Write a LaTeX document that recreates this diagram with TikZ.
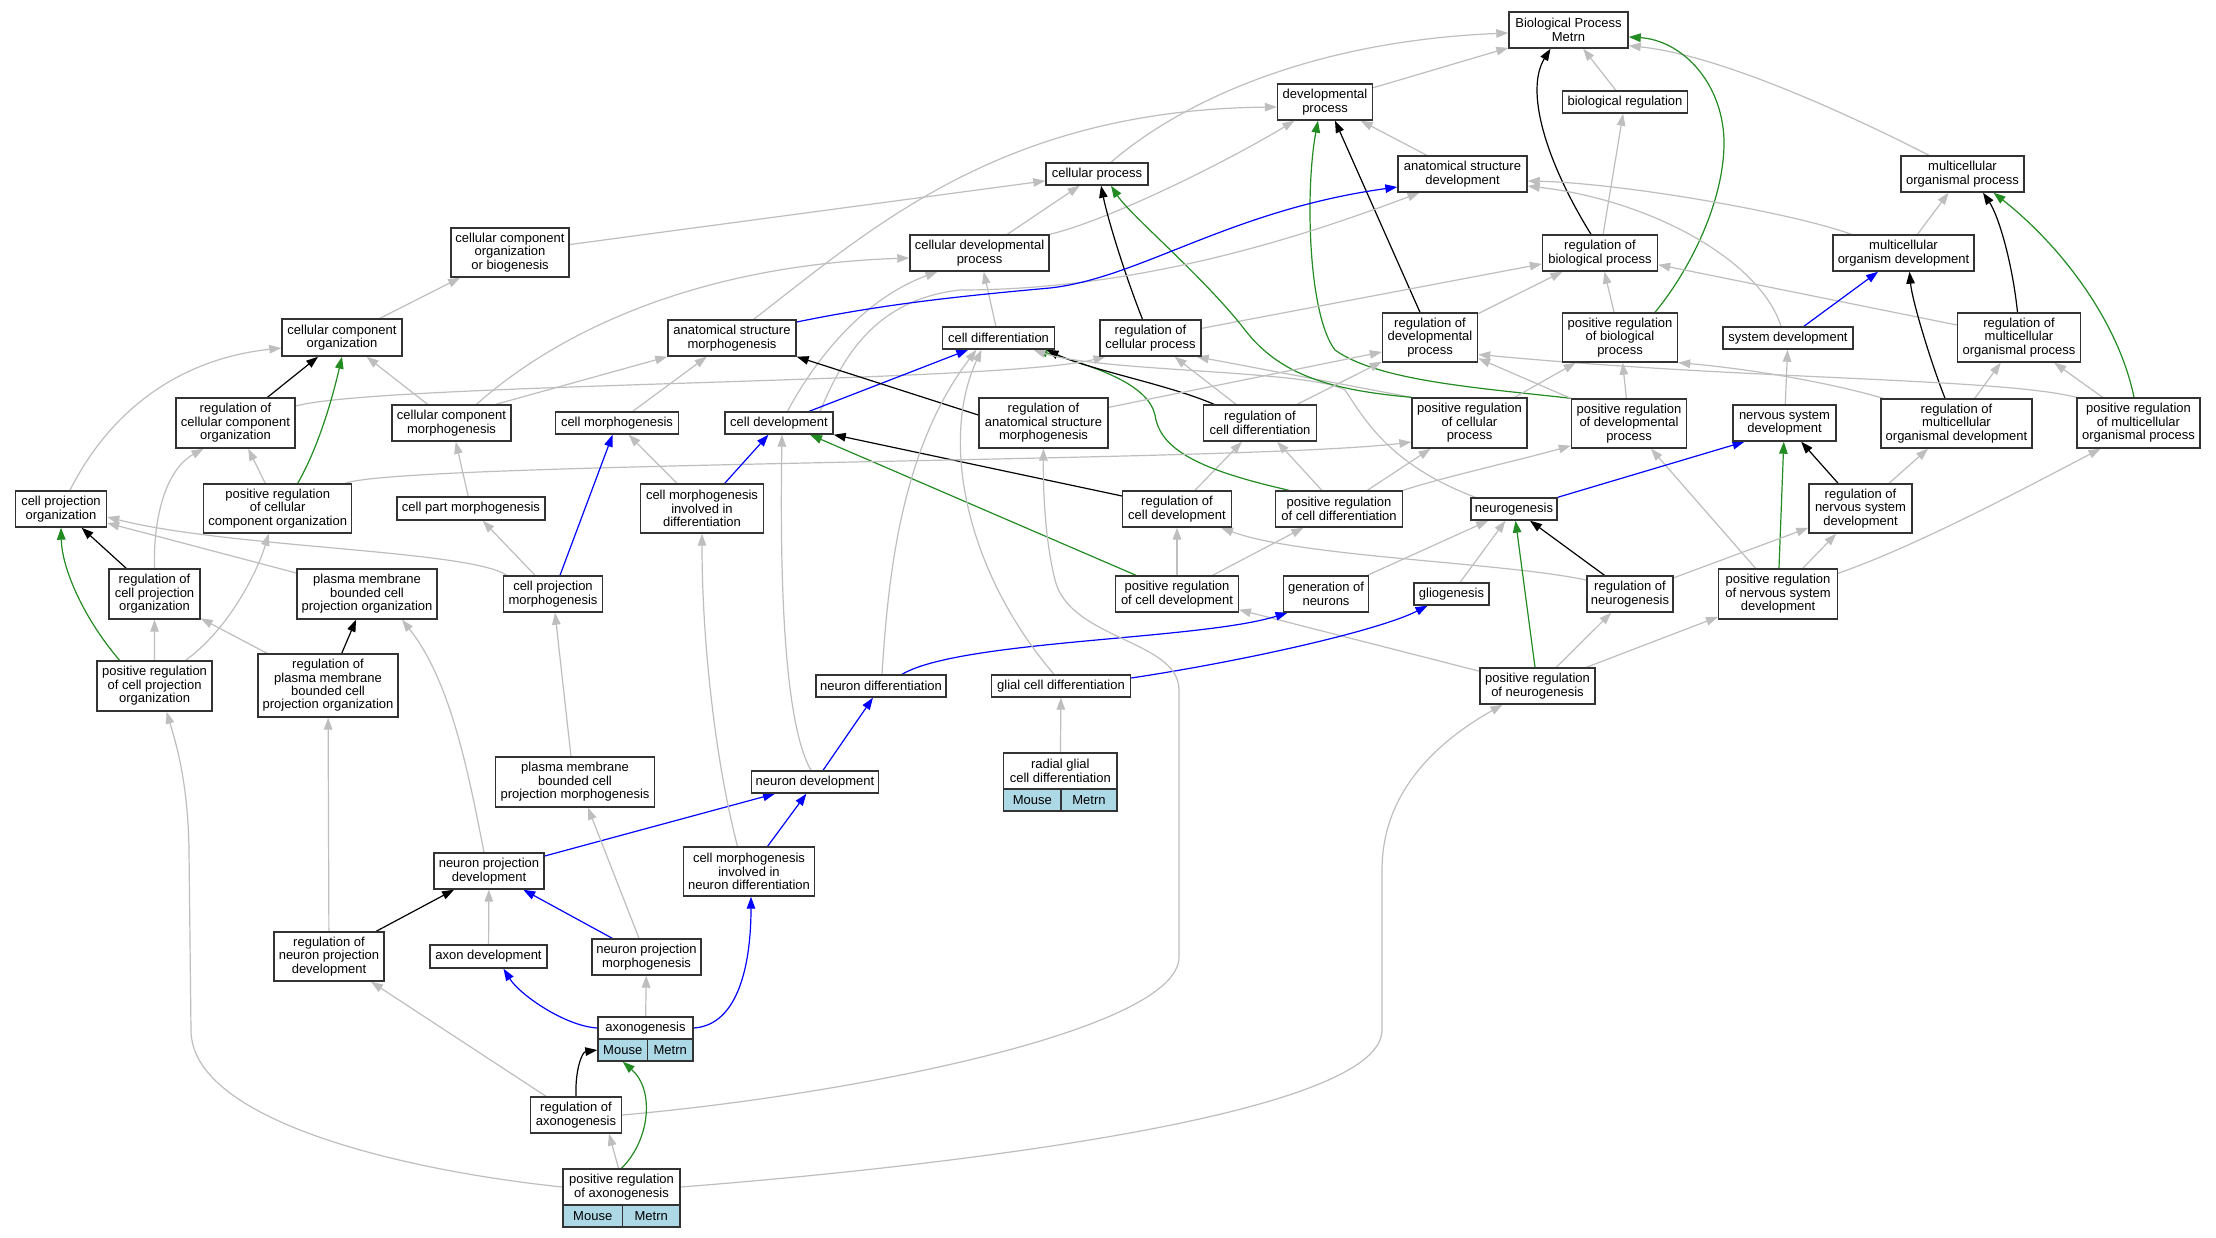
\documentclass[tikz,border=0pt]{standalone}
\usepackage{fontspec}
\setmainfont{Liberation Sans}
\usetikzlibrary{arrows.meta}
\pgfdeclarelayer{bg}
\pgfsetlayers{bg,main}
\definecolor{egray}{RGB}{190,190,190}
\definecolor{egreen}{RGB}{34,139,34}
\definecolor{eblue}{RGB}{0,0,255}
\definecolor{lblue}{RGB}{173,216,230}
\begin{document}
\begin{tikzpicture}[x=1pt,y=-1pt,
  box/.style={draw=black!80, line width=1.4pt, fill=white, align=center, inner xsep=2pt, inner ysep=0pt, font=\fontsize{13}{13.4}\selectfont, text=black},
  gene/.style={box, fill=lblue},
  wh/.style 2 args={minimum width=#1pt, minimum height=#2pt},
  conn/.style={line width=1.2pt, -{Triangle[length=12pt,width=8.5pt]}},
  eisa/.style={conn, draw=egray},
  ereg/.style={conn, draw=black},
  epos/.style={conn, draw=egreen},
  epart/.style={conn, draw=eblue}]
\useasboundingbox (0,0) rectangle (2216,1237);
% nodes
\node[box,wh={119}{36}] (BP) at (1568.5,30) {Biological Process\\Metrn};
\node[box,wh={95}{36}] (devproc) at (1325,102) {developmental\\process};
\node[box,wh={125}{22}] (biolreg) at (1625,102) {biological regulation};
\node[box,wh={123}{36}] (mop) at (1962.5,174) {multicellular\\organismal process};
\node[box,wh={102}{22}] (cellproc) at (1097,174) {cellular process};
\node[box,wh={129}{36}] (asd) at (1462.5,174) {anatomical structure\\development};
\node[box,wh={118}{49}] (cccob) at (510,252.5) {cellular component\\organization\\or biogenesis};
\node[box,wh={139}{36}] (celldevproc) at (979.5,253) {cellular developmental\\process};
\node[box,wh={115}{36}] (regbp) at (1600,253) {regulation of\\biological process};
\node[box,wh={141}{36}] (mod) at (1903.5,253) {multicellular\\organism development};
\node[box,wh={120}{37}] (cco) at (342,337.5) {cellular component\\organization};
\node[box,wh={128}{36}] (asm) at (732,338) {anatomical structure\\morphogenesis};
\node[box,wh={112}{22}] (celldiff) at (998.5,338) {cell differentiation};
\node[box,wh={101}{36}] (regcp) at (1150.5,338) {regulation of\\cellular process};
\node[box,wh={95}{49}] (regdev) at (1430,337.5) {regulation of\\developmental\\process};
\node[box,wh={115}{49}] (posregbp) at (1620,337.5) {positive regulation\\of biological\\process};
\node[box,wh={130}{22}] (sysdev) at (1788,338) {system development};
\node[box,wh={123}{49}] (regmop) at (2019,337.5) {regulation of\\multicellular\\organismal process};
\node[box,wh={119}{50}] (regcco) at (235.5,423) {regulation of\\cellular component\\organization};
\node[box,wh={119}{36}] (ccm) at (451.5,423) {cellular component\\morphogenesis};
\node[box,wh={123}{22}] (cellmorph) at (617,423) {cell morphogenesis};
\node[box,wh={108}{22}] (celldev) at (779,423) {cell development};
\node[box,wh={129}{50}] (regasm) at (1043.5,423) {regulation of\\anatomical structure\\morphogenesis};
\node[box,wh={113}{36}] (regcelldiff) at (1260,423) {regulation of\\cell differentiation};
\node[box,wh={115}{50}] (posregcp) at (1469.5,423) {positive regulation\\of cellular\\process};
\node[box,wh={115}{49}] (posregdev) at (1629,423.5) {positive regulation\\of developmental\\process};
\node[box,wh={103}{36}] (nsd) at (1784.5,423) {nervous system\\development};
\node[box,wh={151}{49}] (regmod) at (1956.5,423.5) {regulation of\\multicellular\\organismal development};
\node[box,wh={123}{50}] (posregmop) at (2138.5,423) {positive regulation\\of multicellular\\organismal process};
\node[box,wh={91}{36}] (cpo) at (61,509) {cell projection\\organization};
\node[box,wh={148}{49}] (poscco) at (277.7,508.5) {positive regulation\\of cellular\\component organization};
\node[box,wh={148}{23}] (cpm) at (471,508.5) {cell part morphogenesis};
\node[box,wh={123}{49}] (cmid) at (702,508.5) {cell morphogenesis\\involved in\\differentiation};
\node[box,wh={108.5}{36}] (regcelldev) at (1177,509) {regulation of\\cell development};
\node[box,wh={127}{36}] (posregcelldiff) at (1339,509) {positive regulation\\of cell differentiation};
\node[box,wh={86}{22}] (neurogenesis) at (1514,509) {neurogenesis};
\node[box,wh={103}{49}] (regnsd) at (1860.5,508.5) {regulation of\\nervous system\\development};
\node[box,wh={91}{50}] (regcpo) at (154.5,594) {regulation of\\cell projection\\organization};
\node[box,wh={140}{50}] (pmbcpo) at (367,594) {plasma membrane\\bounded cell\\projection organization};
\node[box,wh={99}{36}] (cellprojmorph) at (553,594) {cell projection\\morphogenesis};
\node[box,wh={122.5}{36}] (posregcelldev) at (1177,594) {positive regulation\\of cell development};
\node[box,wh={85.5}{36}] (genneurons) at (1326,594) {generation of\\neurons};
\node[box,wh={75}{22}] (gliogenesis) at (1451.5,594) {gliogenesis};
\node[box,wh={86}{36}] (regneuro) at (1630,594) {regulation of\\neurogenesis};
\node[box,wh={118.5}{50}] (posregnsd) at (1778,594) {positive regulation\\of nervous system\\development};
\node[box,wh={115}{50}] (posregcpo) at (154.6,686) {positive regulation\\of cell projection\\organization};
\node[box,wh={140}{63}] (regpmbcpo) at (328,685.5) {regulation of\\plasma membrane\\bounded cell\\projection organization};
\node[box,wh={130}{22}] (neurondiff) at (881,686) {neuron differentiation};
\node[box,wh={139}{22}] (glialdiff) at (1061,686) {glial cell differentiation};
\node[box,wh={115}{36}] (posregneuro) at (1537.5,686) {positive regulation\\of neurogenesis};
\node[box,wh={113.4}{36}] (radial) at (1060.3,771) {radial glial\\cell differentiation};
\node[gene,wh={57.4}{22}] (radialM) at (1032.3,800) {Mouse};
\node[gene,wh={56}{22}] (radialT) at (1089,800) {Metrn};
\node[box,wh={159}{50}] (pmbcpm) at (575,782) {plasma membrane\\bounded cell\\projection morphogenesis};
\node[box,wh={126.6}{22}] (neurondev) at (815,782) {neuron development};
\node[box,wh={110}{36}] (npd) at (489,871) {neuron projection\\development};
\node[box,wh={131}{49}] (cmind) at (749,871.5) {cell morphogenesis\\involved in\\neuron differentiation};
\node[box,wh={110}{49}] (regnpd) at (329,956.5) {regulation of\\neuron projection\\development};
\node[box,wh={117}{23}] (axondev) at (488.5,956.5) {axon development};
\node[box,wh={109}{36}] (npm) at (646.5,957) {neuron projection\\morphogenesis};
\node[box,wh={95}{22}] (axon) at (645.5,1028) {axonogenesis};
\node[gene,wh={49.5}{22}] (axonM) at (622.75,1050) {Mouse};
\node[gene,wh={45.5}{22}] (axonT) at (670.25,1050) {Metrn};
\node[box,wh={91}{36}] (regaxono) at (576,1115) {regulation of\\axonogenesis};
\node[box,wh={117}{36}] (pra) at (621.5,1187) {positive regulation\\of axonogenesis};
\node[gene,wh={59.5}{22}] (praM) at (592.75,1216) {Mouse};
\node[gene,wh={57.5}{22}] (praT) at (651.25,1216) {Metrn};
% edges
\begin{pgfonlayer}{bg}
\fill[white] (0,0) rectangle (2216,1237);
\draw[eisa] (devproc) -- (BP);
\draw[eisa] ([xshift=14pt]cellproc.north) .. controls (1165,115) and (1290,42) .. ([yshift=-3pt]BP.west);
\draw[eisa] (biolreg) -- (BP);
\draw[eisa] ([xshift=-33.5pt]mop.north) .. controls (1850,115) and (1720,55) .. ([yshift=3pt]BP.south east);
\draw[ereg] ([xshift=-9pt]regbp.north) .. controls (1545,160) and (1525,90) .. ([xshift=-18pt]BP.south);
\draw[epos] ([xshift=35pt]posregbp.north) .. controls (1690,270) and (1725,200) .. (1724,140) .. controls (1722,80) and (1680,40) .. ([yshift=-7pt]BP.east);
\draw[eisa] (cccob) -- (cellproc);
\draw[eisa] (celldevproc) -- (cellproc);
\draw[eisa] (celldevproc.north east) .. controls (1110,220) and (1230,160) .. (devproc);
\draw[eisa] (asd) -- (devproc);
\draw[eisa] ([xshift=21.6pt]asm.north) .. controls (870,230) and (1000,110) .. ([yshift=-5pt]devproc.west);
\draw[ereg] ([xshift=-10pt]regdev.north) -- ([xshift=10pt]devproc.south);
\draw[epos] (posregdev.north west) .. controls (1480,388) and (1378,381) .. (1335,350) .. controls (1308,315) and (1305,190) .. ([xshift=-7pt]devproc.south);
\draw[eisa] (regbp) -- (biolreg);
\draw[eisa] (posregbp) -- (regbp);
\draw[eisa] (regdev) -- (regbp);
\draw[eisa] (regcp) -- (regbp);
\draw[eisa] (regmop) -- (regbp);
\draw[eisa] ([xshift=19pt]mod.north west) .. controls (1790,212) and (1620,183) .. ([yshift=-7pt]asd.east);
\draw[eisa] ([xshift=-7pt]sysdev.north) .. controls (1760,260) and (1650,200) .. ([yshift=-12pt]asd.east);
\draw[epart] (sysdev) -- (mod);
\draw[eisa] (mod) -- (mop);
\draw[ereg] ([xshift=-1.5pt]regmop.north) .. controls (2012,260) and (1998,215) .. ([xshift=20.5pt]mop.south);
\draw[epos] ([xshift=-4.5pt]posregmop.north) .. controls (2118,320) and (2060,245) .. ([xshift=31pt]mop.south);
\draw[eisa] (posregmop) -- (regmop);
\draw[eisa] (regmod) -- (regmop);
\draw[ereg] ([xshift=-11.5pt]regmod.north) .. controls (1930,360) and (1912,300) .. ([xshift=6pt]mod.south);
\draw[eisa] ([xshift=3pt]regmod.north west) .. controls (1820,380) and (1740,368) .. (posregbp.south east);
\draw[eisa] (posregmop.north west) .. controls (2000,378) and (1750,380) .. ([yshift=-17pt]regdev.east);
\draw[eisa] (posregdev) -- (regdev);
\draw[eisa] (posregdev) -- (posregbp);
\draw[eisa] (posregcp) -- (posregbp);
\draw[eisa] (regnsd) -- (regmod);
\draw[ereg] (regnsd) -- (nsd);
\draw[epos] (posregnsd) -- (nsd);
\draw[eisa] (posregnsd) -- (regnsd);
\draw[eisa] ([yshift=-5pt]posregnsd.north east) .. controls (1920,545) and (2040,480) .. ([xshift=-38pt]posregmop.south);
\draw[eisa] (posregnsd) -- (posregdev);
\draw[eisa] (nsd) -- (sysdev);
\draw[epart] (neurogenesis.north east) -- ([xshift=-40pt]nsd.south);
\draw[ereg] (regneuro) -- (neurogenesis);
\draw[eisa] (regneuro) -- (regnsd);
\draw[eisa] ([yshift=14pt]regneuro.west) .. controls (1500,562) and (1300,557) .. ([xshift=44pt]regcelldev.south);
\draw[epos] (posregneuro) -- (neurogenesis);
\draw[eisa] (posregneuro) -- (regneuro);
\draw[eisa] (posregneuro) -- (posregnsd);
\draw[eisa] (posregneuro) -- (posregcelldev);
\draw[eisa] (genneurons) -- (neurogenesis);
\draw[eisa] (gliogenesis) -- (neurogenesis);
\draw[epart] ([xshift=21pt]neurondiff.north) .. controls (960,640) and (1200,640) .. ([xshift=5pt]genneurons.south west);
\draw[epart] ([yshift=8pt]glialdiff.east) .. controls (1250,660) and (1380,630) .. ([xshift=-24pt]gliogenesis.south);
\draw[eisa] (posregcelldev) -- (regcelldev);
\draw[eisa] (posregcelldev) -- (posregcelldiff);
\draw[epos] ([xshift=-41pt]posregcelldev.north) -- ([xshift=31pt]celldev.south);
\draw[ereg] ([yshift=13pt]regcelldev.west) -- (celldev.south east);
\draw[eisa] (regcelldev) -- (regcelldiff);
\draw[eisa] (posregcelldiff) -- (regcelldiff);
\draw[eisa] (posregcelldiff) -- (posregcp);
\draw[eisa] (posregcelldiff.north east) .. controls (1440,478) and (1520,460) .. ([yshift=3pt]posregdev.south west);
\draw[epos] ([xshift=-50pt]posregcelldiff.north) .. controls (1200,470) and (1160,450) .. (1155,415) .. controls (1148,385) and (1100,368) .. ([xshift=37pt]celldiff.south);
\draw[ereg] ([xshift=-46pt]regcelldiff.north) .. controls (1170,385) and (1090,370) .. ([xshift=48pt]celldiff.south);
\draw[eisa] ([xshift=5pt]neurogenesis.north west) .. controls (1390,465) and (1365,420) .. (1345,390) .. controls (1310,370) and (1100,372) .. (celldiff);
\draw[eisa] (posregcp.north west) -- ([xshift=-5pt]regcp.south east);
\draw[epos] (posregcp.north west) .. controls (1330,390) and (1280,375) .. (1245,330) .. controls (1205,278) and (1130,215) .. ([xshift=14pt]cellproc.south);
\draw[ereg] ([xshift=-8pt]regcp.north) .. controls (1125,275) and (1108,220) .. ([xshift=4pt]cellproc.south);
\draw[eisa] ([yshift=-10pt]regasm.north east) -- ([yshift=-14.5pt]regdev.west);
\draw[eisa] (regcelldiff) -- (regdev);
\draw[eisa] (regcelldiff) -- (regcp);
\draw[eisa] ([yshift=17pt]regcco.east) .. controls (380,383) and (1000,383) .. ([xshift=-45pt]regcp.south);
\draw[eisa] ([xshift=-7pt]poscco.north east) .. controls (400,462) and (1250,462) .. ([yshift=-19pt]posregcp.west);
\draw[eisa] (poscco) -- (regcco);
\draw[epos] ([xshift=20pt]poscco.north) .. controls (318,448) and (332,400) .. (cco.south);
\draw[ereg] (regcco) -- (cco);
\draw[eisa] (ccm) -- (cco);
\draw[eisa] (cco) -- (cccob);
\draw[eisa] ([xshift=9pt]cpo.north) .. controls (105,420) and (170,360) .. ([yshift=-10.5pt]cco.west);
\draw[ereg] (regcpo) -- (cpo);
\draw[eisa] (regcpo.north) .. controls (153,520) and (165,470) .. ([xshift=-32pt]regcco.south);
\draw[epos] ([xshift=-35pt]posregcpo.north) .. controls (85,620) and (62,570) .. (cpo.south);
\draw[eisa] (posregcpo) -- (regcpo);
\draw[eisa] ([xshift=31pt]posregcpo.north) .. controls (230,628) and (258,570) .. ([xshift=-9pt]poscco.south);
\draw[eisa] ([yshift=21pt]pmbcpo.west) -- ([yshift=-14pt]cpo.east);
\draw[eisa] ([xshift=4pt]cellprojmorph.north west) .. controls (470,550) and (230,548) .. ([yshift=-8pt]cpo.east);
\draw[ereg] (regpmbcpo) -- (pmbcpo);
\draw[eisa] (regpmbcpo) -- (regcpo);
\draw[eisa] (cpm) -- (ccm);
\draw[eisa] (cellprojmorph) -- (cpm);
\draw[epart] (cellprojmorph) -- (cellmorph);
\draw[eisa] (cmid) -- (cellmorph);
\draw[epart] (cmid) -- (celldev);
\draw[eisa] (cellmorph) -- (asm);
\draw[eisa] ([xshift=44.5pt]ccm.north) -- (asm.south west);
\draw[eisa] ([xshift=25pt]ccm.north) .. controls (560,330) and (700,265) .. ([yshift=-5pt]celldevproc.west);
\draw[eisa] ([xshift=8.5pt]celldev.north) .. controls (812,365) and (860,300) .. ([xshift=-42pt]celldevproc.south);
\draw[eisa] ([xshift=41pt]celldev.north) .. controls (840,365) and (870,300) .. (960,290) .. controls (1150,290) and (1320,230) .. ([xshift=-43pt]asd.south);
\draw[epart] (celldev) -- (celldiff);
\draw[eisa] (celldiff) -- (celldevproc);
\draw[epart] ([yshift=16pt]asm.east) .. controls (880,305) and (950,297) .. (1050,288) .. controls (1140,278) and (1230,210) .. ([yshift=-13pt]asd.west);
\draw[ereg] ([yshift=8pt]regasm.west) -- (asm.south east);
\draw[eisa] ([xshift=-4pt]neurondev.north) .. controls (782,720) and (780,560) .. ([xshift=3pt]celldev.south);
\draw[epart] (neurondev) -- (neurondiff);
\draw[eisa] ([xshift=1pt]neurondiff.north) .. controls (888,580) and (900,450) .. ([xshift=-22pt]celldiff.south);
\draw[eisa] ([xshift=-7pt]glialdiff.north) .. controls (965,570) and (940,440) .. ([xshift=-17pt]celldiff.south);
\draw[eisa] (radial) -- (glialdiff);
\draw[eisa] (regaxono.east) .. controls (850,1095) and (1179,1030) .. (1179,957) -- (1179,690) .. controls (1179,640) and (1070,640) .. (1055,580) .. controls (1045,540) and (1043,490) .. (regasm.south);
\draw[eisa] (pra.east) .. controls (900,1170) and (1382,1120) .. (1382,1030) -- (1382,870) .. controls (1382,790) and (1440,740) .. ([xshift=-35pt]posregneuro.south);
\draw[eisa] (pra.west) .. controls (400,1170) and (191,1120) .. (191,1030) -- (189,850) .. controls (188,780) and (175,740) .. ([xshift=12pt]posregcpo.south);
\draw[eisa] (regnpd) -- (regpmbcpo);
\draw[eisa] ([xshift=-5pt]npd.north) .. controls (468,770) and (450,680) .. ([xshift=35pt]pmbcpo.south);
\draw[epart] ([yshift=15pt]npd.east) -- ([xshift=-40pt]neurondev.south);
\draw[epart] (cmind) -- (neurondev);
\draw[eisa] ([xshift=-11.5pt]cmind.north) .. controls (715,760) and (702,640) .. (cmid.south);
\draw[epart] (npm) -- (npd);
\draw[eisa] ([xshift=-7.5pt]npm.north) -- ([xshift=13pt]pmbcpm.south);
\draw[eisa] ([xshift=-4pt]pmbcpm.north) -- ([xshift=2pt]cellprojmorph.south);
\draw[eisa] (axondev) -- (npd);
\draw[ereg] (regnpd) -- (npd);
\draw[epart] (axon.west) .. controls (565,1026) and (520,995) .. ([xshift=15pt]axondev.south);
\draw[epart] (axon.east) .. controls (740,1025) and (751,960) .. ([xshift=2pt]cmind.south);
\draw[eisa] (axon) -- (npm);
\draw[ereg] (regaxono.north) .. controls (575,1070) and (582,1052) .. (axonM.west);
\draw[epos] (pra.north) .. controls (650,1140) and (655,1090) .. (axonM.south);
\draw[eisa] ([xshift=-3pt]pra.north) -- ([xshift=33pt]regaxono.south);
\draw[eisa] ([xshift=-30pt]regaxono.north) -- ([xshift=42pt]regnpd.south);
\end{pgfonlayer}
\end{tikzpicture}
\end{document}
